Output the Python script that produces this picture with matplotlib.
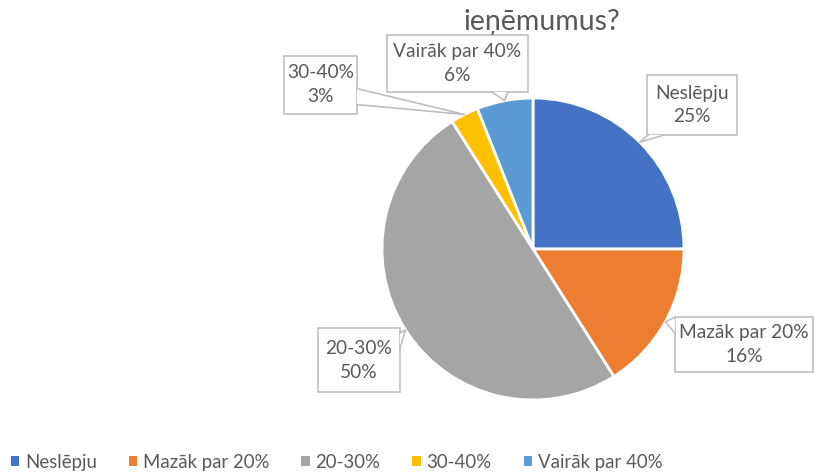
import matplotlib.pyplot as plt
import numpy as np
from matplotlib.patches import Patch, Rectangle, Polygon

categories = ['Neslēpju', 'Mazāk par 20%', '20-30%', '30-40%', 'Vairāk par 40%']
values = [25, 16, 50, 3, 6]
colors = ['#4472C4', '#ED7D31', '#A5A5A5', '#FFC000', '#5B9BD5']
title = 'ieņēmumus?'

# label boxes in pixels (left, top, right, bottom), y measured from top
boxes = [(647, 75, 737, 135), (675, 317, 813, 372), (318, 328, 400, 392),
         (284, 56, 357, 114), (387, 35, 528, 92)]
# which side of the box the callout tail leaves from, and where along it
tails = [('bottom', 0.1), ('left', 0.15), ('right', 0.2), ('right', 0.7), ('bottom', 0.8)]

W, H = 814, 475
cx, cy, R = 533, 249, 151
txt = '#595959'
plt.rcParams['font.family'] = ['Lato', 'DejaVu Sans']

fig = plt.figure(figsize=(W / 100, H / 100), dpi=100)
ax = fig.add_axes([0, 0, 1, 1])
ax.pie(values, colors=colors, startangle=90, counterclock=False,
       center=(cx, H - cy), radius=R,
       wedgeprops=dict(edgecolor='white', linewidth=2))
ax.set_xlim(0, W)
ax.set_ylim(0, H)
ax.axis('off')

total = sum(values)
start = 0
for i, (cat, v) in enumerate(zip(categories, values)):
    mid = np.deg2rad((start + v / 2) / total * 360)
    start += v
    tip = (cx + R * np.sin(mid), H - (cy - R * np.cos(mid)))
    l, t, r, b = boxes[i]
    side, f = tails[i]
    gap = 8
    if side == 'bottom':
        x0 = l + f * (r - l)
        base = [(x0 - gap, H - b), (x0 + gap, H - b)]
    elif side == 'left':
        y0 = t + f * (b - t)
        base = [(l, H - y0 + gap), (l, H - y0 - gap)]
    else:
        y0 = t + f * (b - t)
        base = [(r, H - y0 + gap), (r, H - y0 - gap)]
    ax.add_patch(Rectangle((l, H - b), r - l, b - t, facecolor='white',
                           edgecolor='#BFBFBF', linewidth=1.2, zorder=3))
    ax.add_patch(Polygon([base[0], tip, base[1]], closed=True, facecolor='white',
                         edgecolor='none', zorder=4))
    ax.plot([base[0][0], tip[0], base[1][0]], [base[0][1], tip[1], base[1][1]],
            color='#BFBFBF', linewidth=1.2, zorder=4)
    ax.text((l + r) / 2, H - (t + b) / 2, f'{cat}\n{v}%', ha='center', va='center',
            fontsize=13.8, color=txt, linespacing=1.5, zorder=5)

ax.text(542, H - 30, title, ha='center', va='baseline', fontsize=20.5, color=txt)

handles = [Patch(facecolor=c, edgecolor='none') for c in colors]
fig.legend(handles, categories, loc='lower left', bbox_to_anchor=(-0.007, -0.027),
           ncol=5, frameon=False, fontsize=13.4, handlelength=0.45, handleheight=0.45,
           handletextpad=0.3, columnspacing=1.72, labelcolor=txt)

fig.savefig('out.png', dpi=100)
